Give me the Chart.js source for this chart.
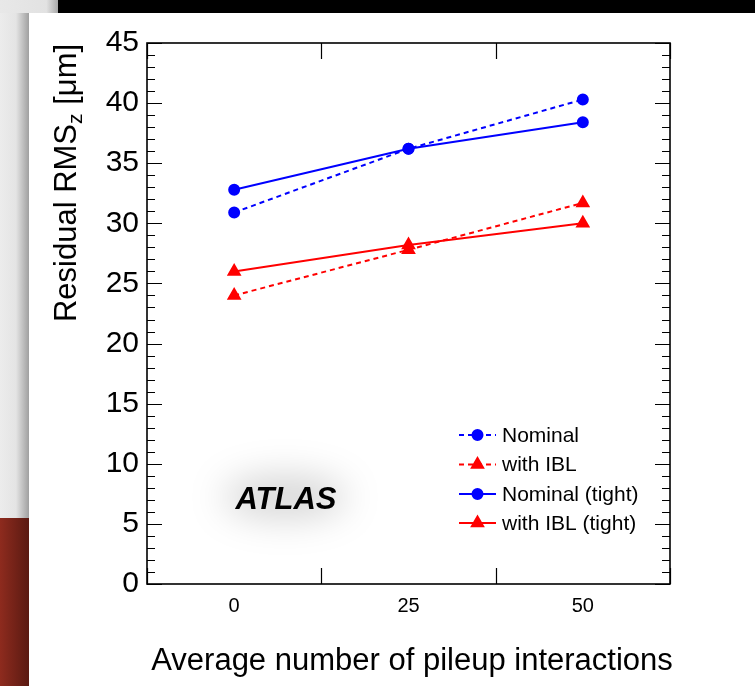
<!DOCTYPE html>
<html><head><meta charset="utf-8">
<script src="https://cdn.jsdelivr.net/npm/chart.js@4"></script>
<style>
html,body{margin:0;padding:0;width:755px;height:686px;overflow:hidden;background:#fff;position:relative}
#bgTopLeft{position:absolute;left:0;top:0;width:58px;height:13px;background:linear-gradient(to right,#e8e8e8 0,#e2e2e2 80%,#a8a8a8 100%)}
#bgBlack{position:absolute;left:58px;top:0;width:697px;height:13px;background:#000}
#bgGray{position:absolute;left:0;top:13px;width:29px;height:505px;background:linear-gradient(to right,#ececec 0,#e4e4e4 55%,#a0a0a0 100%)}
#bgRed{position:absolute;left:0;top:518px;width:29px;height:168px;background:linear-gradient(to right,#8e2b1e,#5a1a12)}
#wrap{position:absolute;left:0;top:0;width:755px;height:686px}
</style></head>
<body>
<div id="bgTopLeft"></div><div id="bgBlack"></div><div id="bgGray"></div><div id="bgRed"></div>
<div id="wrap"><canvas id="c" width="755" height="686"></canvas></div>
<script>
const categories = ['0', '25', '50'];
const nominal = [30.9, 36.2, 40.3];
const withIBL = [24.0, 27.8, 31.7];
const nominalTight = [32.8, 36.2, 38.4];
const withIBLTight = [26.0, 28.2, 30.0];
const seriesNames = ['Nominal', 'with IBL', 'Nominal (tight)', 'with IBL (tight)'];
const yMin = 0, yMax = 45, yMajorStep = 5, yMinorStep = 1;
const xTitle = 'Average number of pileup interactions';
const yTitleParts = ['Residual RMS', 'z', ' [\u03bcm]'];
const atlasLabel = 'ATLAS';

const FONT = '"Liberation Sans", Arial, Helvetica, sans-serif';
const BLUE = '#0000ff', RED = '#ff0000';

const framePlugin = {
  id: 'frame',
  afterDatasetsDraw(chart) {
    const {ctx, chartArea: a, scales: {x, y}} = chart;
    ctx.save();
    ctx.strokeStyle = '#000';
    ctx.lineWidth = 1.2;
    ctx.beginPath();
    for (let v = yMin; v <= yMax + 1e-9; v += yMinorStep) {
      const p = Math.round(y.getPixelForValue(v)) + 0.5;
      const len = (Math.abs(v % yMajorStep) < 1e-9) ? 15 : 8;
      ctx.moveTo(a.left, p); ctx.lineTo(a.left + len, p);
      ctx.moveTo(a.right, p); ctx.lineTo(a.right - len, p);
    }
    for (let i = 0; i <= categories.length; i++) {
      const p = Math.round(x.getPixelForValue(i - 0.5)) + 0.5;
      ctx.moveTo(p, a.bottom); ctx.lineTo(p, a.bottom - 16);
      ctx.moveTo(p, a.top); ctx.lineTo(p, a.top + 16);
    }
    ctx.stroke();
    ctx.lineWidth = 1.6;
    ctx.strokeRect(a.left, a.top, a.right - a.left, a.bottom - a.top);
    ctx.restore();
  }
};

const textPlugin = {
  id: 'texts',
  beforeDatasetsDraw(chart) {
    const ctx = chart.ctx;
    // ATLAS glow
    ctx.save();
    ctx.filter = 'blur(18px)';
    ctx.fillStyle = 'rgba(0,0,0,0.16)';
    ctx.beginPath();
    ctx.ellipse(285, 497, 62, 22, 0, 0, Math.PI * 2);
    ctx.fill();
    ctx.restore();
  },
  afterDraw(chart) {
    const ctx = chart.ctx;
    ctx.save();
    ctx.fillStyle = '#000';
    // ATLAS
    ctx.font = 'bold italic 31px ' + FONT;
    ctx.textAlign = 'center';
    ctx.textBaseline = 'alphabetic';
    ctx.fillText(atlasLabel, 286, 509);
    // x title
    ctx.font = '31px ' + FONT;
    ctx.textAlign = 'center';
    ctx.fillText(xTitle, 412, 670);
    // y title with subscript
    const big = '31px ' + FONT, small = '21px ' + FONT;
    ctx.font = big; const w0 = ctx.measureText(yTitleParts[0]).width;
    ctx.font = small; const w1 = ctx.measureText(yTitleParts[1]).width;
    ctx.font = big; const w2 = ctx.measureText(yTitleParts[2]).width;
    const total = w0 + w1 + w2;
    ctx.translate(76, 183);
    ctx.rotate(-Math.PI / 2);
    ctx.textAlign = 'left';
    let cx = -total / 2;
    ctx.font = big; ctx.fillText(yTitleParts[0], cx, 0); cx += w0;
    ctx.font = small; ctx.fillText(yTitleParts[1], cx, 6); cx += w1;
    ctx.font = big; ctx.fillText(yTitleParts[2], cx, 0);
    ctx.restore();

    // legend
    ctx.save();
    const rows = [435, 464.5, 494, 523];
    chart.data.datasets.forEach((ds, i) => {
      const yy = rows[i];
      ctx.strokeStyle = ds.borderColor;
      ctx.lineWidth = ds.borderWidth;
      ctx.setLineDash(ds.borderDash || []);
      ctx.beginPath(); ctx.moveTo(459, yy); ctx.lineTo(496, yy); ctx.stroke();
      ctx.setLineDash([]);
      Chart.helpers.drawPoint(ctx, {pointStyle: ds.pointStyle, radius: ds.pointRadius, borderWidth: 1, rotation: 0}, 477.5, yy);
      ctx.fillStyle = ds.borderColor;
      ctx.fill();
      ctx.fillStyle = '#000';
      ctx.font = '21px ' + FONT;
      ctx.textAlign = 'left';
      ctx.textBaseline = 'middle';
      ctx.fillText(ds.label, 502, yy + 1);
    });
    ctx.restore();
  }
};

const mk = (label, data, color, dashed, style, r) => ({
  label, data,
  borderColor: color, backgroundColor: color,
  pointBackgroundColor: color, pointBorderColor: color,
  borderWidth: 2, borderDash: dashed ? [5, 4] : [],
  pointStyle: style, pointRadius: r, pointHoverRadius: r,
  tension: 0, fill: false
});

new Chart(document.getElementById('c'), {
  type: 'line',
  data: {
    labels: categories,
    datasets: [
      mk(seriesNames[0], nominal, BLUE, true, 'circle', 5),
      mk(seriesNames[1], withIBL, RED, true, 'triangle', 6.5),
      mk(seriesNames[2], nominalTight, BLUE, false, 'circle', 5),
      mk(seriesNames[3], withIBLTight, RED, false, 'triangle', 6.5)
    ]
  },
  options: {
    responsive: false, animation: false, devicePixelRatio: 1,
    layout: {padding: {left: 0, top: 43, right: 85, bottom: 0}},
    plugins: {legend: {display: false}, tooltip: {enabled: false}},
    scales: {
      x: {
        type: 'category', offset: true,
        grid: {display: false, drawTicks: false}, border: {display: false},
        ticks: {color: '#000', font: {family: FONT, size: 20}, padding: 10, maxRotation: 0},
        afterFit(s) { s.height = 102; }
      },
      y: {
        min: yMin, max: yMax,
        grid: {display: false, drawTicks: false}, border: {display: false},
        ticks: {stepSize: yMajorStep, color: '#000', font: {family: FONT, size: 30}, padding: 8},
        afterFit(s) { s.width = 147; }
      }
    }
  },
  plugins: [framePlugin, textPlugin]
});
</script>
</body></html>
